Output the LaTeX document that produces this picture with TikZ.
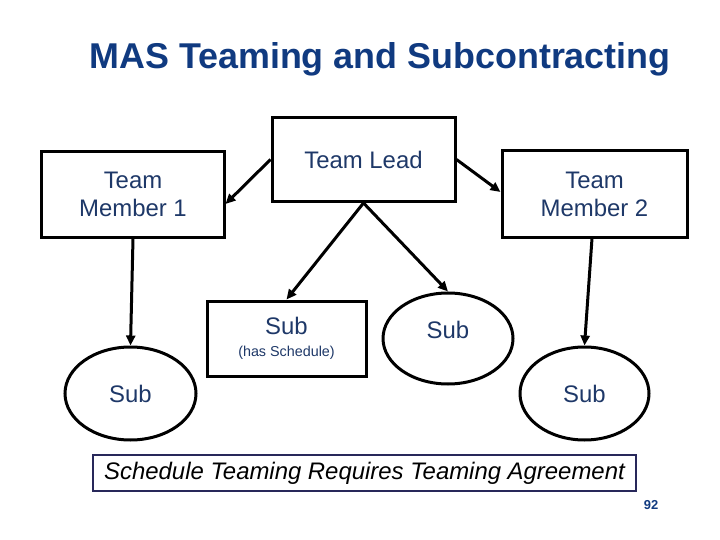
\documentclass[tikz,border=0pt]{standalone}
\usepackage{fontspec}
\setmainfont{Liberation Sans}
\usetikzlibrary{shapes.geometric,arrows.meta}
\definecolor{titleblue}{RGB}{16,58,128}
\definecolor{textnavy}{RGB}{30,56,104}
\definecolor{framenavy}{RGB}{40,40,90}
\tikzset{
  boxnode/.style={draw=black, line width=3bp, rectangle, inner sep=0pt,
    text=textnavy, align=center, font=\fontsize{24}{28}\selectfont},
  ellnode/.style={draw=black, line width=3bp, ellipse, inner sep=0pt,
    text=textnavy, font=\fontsize{24}{28}\selectfont},
  conn/.style={line width=3bp, -{Triangle[length=10bp,width=9bp]}}
}
\begin{document}
\begin{tikzpicture}[x=1bp,y=-1bp]
\useasboundingbox (0,0) rectangle (720,540);
\fill[white] (0,0) rectangle (720,540);
% title
\node[text=titleblue, font=\fontsize{36}{40}\selectfont\bfseries] (title) at (380,59) {MAS Teaming and Subcontracting};
% boxes
\node[boxnode, minimum width=183bp, minimum height=84bp] (TL) at (363.5,159.5) {Team Lead};
\node[boxnode, minimum width=182bp, minimum height=85bp] (TM1) at (133,194.5) {Team\\Member 1};
\node[boxnode, minimum width=185bp, minimum height=86bp] (TM2) at (594.5,194) {Team\\Member 2};
\node[boxnode, minimum width=159bp, minimum height=75bp] (SubS) at (286.5,338.5)
  {Sub\\[-6bp]{\fontsize{14.4}{16}\selectfont (has Schedule)}};
% ellipses
\node[ellnode, minimum width=130bp, minimum height=91bp, text height=17bp, text depth=18bp] (SubM) at (448,338.5) {Sub};
\node[ellnode, minimum width=131bp, minimum height=93bp] (SubL) at (130.5,393.5) {Sub};
\node[ellnode, minimum width=129bp, minimum height=93bp] (SubR) at (584.5,393.5) {Sub};
% connectors
\draw[conn] (TL.west) -- ([yshift=-9.5bp]TM1.east);
\draw[conn] (TL.east) -- ([yshift=2bp]TM2.west);
\draw[conn] (TL.south) -- (SubS.north);
\draw[conn] (TL.south) -- (SubM.north);
\draw[conn] (TM1.south) -- (SubL.north);
\draw[conn] ([xshift=-2.5bp]TM2.south) -- (SubR.north);
% note
\node[draw=framenavy, line width=1.3bp, rectangle, minimum width=543bp, minimum height=36bp, inner sep=0pt,
  font=\fontsize{24}{27}\selectfont\itshape] (note) at (364.5,473) {Schedule Teaming Requires Teaming Agreement};
% page number
\node[text=titleblue, font=\fontsize{13}{15}\selectfont\bfseries] (page) at (651,505) {92};
\end{tikzpicture}
\end{document}
